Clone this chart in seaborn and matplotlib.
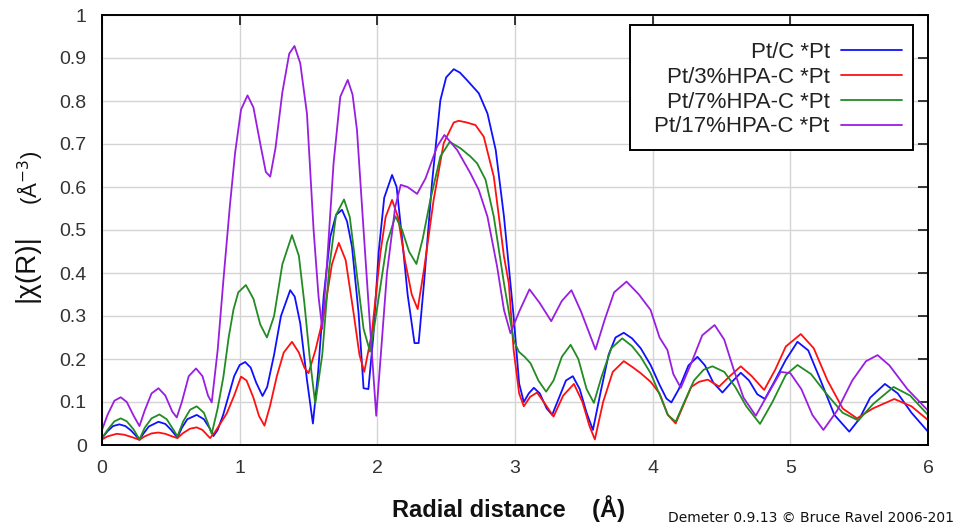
import matplotlib
matplotlib.use("Agg")
import matplotlib.pyplot as plt
from matplotlib.patches import Rectangle
import seaborn as sns
import pandas as pd

# ---------------- data ----------------
labels = ["Pt/C *Pt", "Pt/3%HPA-C *Pt", "Pt/7%HPA-C *Pt", "Pt/17%HPA-C *Pt"]
colors = ["#1010ff", "#ff1010", "#238b23", "#9a1ee0"]

r_blue = [0.00, 0.04, 0.08, 0.126, 0.17, 0.21, 0.245, 0.272, 0.30, 0.34, 0.41, 0.46, 0.50, 0.548,
          0.58, 0.62, 0.688, 0.74, 0.78, 0.81, 0.84, 0.88, 0.92, 0.96, 1.00, 1.04, 1.08, 1.12,
          1.166, 1.20, 1.25, 1.30, 1.367, 1.40, 1.44, 1.489, 1.532, 1.57, 1.61, 1.658, 1.70,
          1.743, 1.78, 1.816, 1.864, 1.90, 1.935, 1.97, 2.01, 2.05, 2.107, 2.14, 2.18, 2.22,
          2.27, 2.30, 2.34, 2.397, 2.458, 2.50, 2.555, 2.60, 2.65, 2.737, 2.80, 2.86, 2.92,
          2.99, 3.03, 3.064, 3.10, 3.137, 3.18, 3.23, 3.27, 3.32, 3.37, 3.42, 3.47, 3.52,
          3.566, 3.62, 3.68, 3.73, 3.79, 3.85, 3.913, 3.985, 4.05, 4.10, 4.136, 4.19, 4.26,
          4.325, 4.38, 4.44, 4.507, 4.57, 4.64, 4.70, 4.76, 4.815, 4.88, 4.967, 5.052, 5.13,
          5.22, 5.32, 5.428, 5.50, 5.58, 5.687, 5.78, 5.88, 6.00]
v_blue = [0.016, 0.032, 0.044, 0.048, 0.044, 0.034, 0.022, 0.012, 0.026, 0.043, 0.054, 0.049, 0.036, 0.017,
          0.040, 0.060, 0.070, 0.060, 0.040, 0.021, 0.035, 0.070, 0.115, 0.160, 0.186, 0.193, 0.180, 0.145,
          0.114, 0.135, 0.210, 0.300, 0.360, 0.345, 0.283, 0.151, 0.050, 0.170, 0.345, 0.484, 0.535,
          0.547, 0.520, 0.461, 0.306, 0.132, 0.130, 0.250, 0.450, 0.575, 0.628, 0.600, 0.480, 0.350,
          0.237, 0.237, 0.380, 0.609, 0.802, 0.855, 0.874, 0.866, 0.849, 0.818, 0.771, 0.686, 0.531,
          0.299, 0.143, 0.100, 0.120, 0.133, 0.120, 0.085, 0.070, 0.110, 0.150, 0.160, 0.130, 0.075,
          0.035, 0.120, 0.210, 0.250, 0.261, 0.248, 0.225, 0.186, 0.140, 0.108, 0.099, 0.130, 0.185,
          0.205, 0.185, 0.145, 0.122, 0.145, 0.168, 0.150, 0.118, 0.107, 0.145, 0.198, 0.240, 0.220,
          0.150, 0.070, 0.031, 0.060, 0.110, 0.142, 0.120, 0.075, 0.031]

r_red = [0.00, 0.04, 0.107, 0.16, 0.22, 0.272, 0.31, 0.36, 0.41, 0.46, 0.51, 0.548, 0.59, 0.64,
         0.688, 0.73, 0.785, 0.82, 0.86, 0.907, 0.96, 1.01, 1.05, 1.10, 1.14, 1.18, 1.22, 1.27,
         1.32, 1.38, 1.43, 1.47, 1.50, 1.55, 1.61, 1.67, 1.72, 1.77, 1.828, 1.87, 1.905, 1.96,
         2.022, 2.06, 2.107, 2.15, 2.20, 2.25, 2.293, 2.34, 2.409, 2.482, 2.555, 2.591, 2.65,
         2.713, 2.773, 2.846, 2.92, 2.955, 2.99, 3.03, 3.064, 3.11, 3.16, 3.22, 3.28, 3.35,
         3.428, 3.49, 3.54, 3.58, 3.64, 3.71, 3.79, 3.85, 3.913, 3.985, 4.05, 4.11, 4.167,
         4.22, 4.28, 4.337, 4.40, 4.483, 4.56, 4.64, 4.72, 4.81, 4.89, 4.967, 5.076, 5.17,
         5.27, 5.38, 5.484, 5.60, 5.755, 5.88, 6.00]
v_red = [0.013, 0.020, 0.026, 0.024, 0.018, 0.012, 0.020, 0.027, 0.029, 0.026, 0.020, 0.016, 0.028, 0.038,
         0.041, 0.035, 0.016, 0.030, 0.050, 0.074, 0.115, 0.159, 0.150, 0.110, 0.068, 0.045, 0.090, 0.160,
         0.215, 0.240, 0.215, 0.180, 0.167, 0.220, 0.300, 0.420, 0.470, 0.430, 0.306, 0.210, 0.170, 0.260,
         0.446, 0.530, 0.570, 0.530, 0.430, 0.350, 0.316, 0.410, 0.570, 0.702, 0.750, 0.754, 0.750,
         0.744, 0.717, 0.624, 0.438, 0.376, 0.221, 0.120, 0.090, 0.112, 0.122, 0.095, 0.066, 0.115,
         0.142, 0.100, 0.045, 0.013, 0.100, 0.170, 0.195, 0.182, 0.167, 0.147, 0.120, 0.070, 0.050,
         0.090, 0.135, 0.147, 0.152, 0.136, 0.160, 0.183, 0.160, 0.128, 0.175, 0.229, 0.258, 0.225,
         0.150, 0.085, 0.062, 0.085, 0.107, 0.090, 0.058]

r_green = [0.00, 0.04, 0.09, 0.136, 0.18, 0.23, 0.272, 0.31, 0.36, 0.417, 0.47, 0.51, 0.548, 0.59,
           0.64, 0.688, 0.74, 0.77, 0.797, 0.84, 0.882, 0.92, 0.955, 0.99, 1.045, 1.10, 1.15,
           1.198, 1.25, 1.31, 1.38, 1.43, 1.47, 1.51, 1.549, 1.60, 1.65, 1.70, 1.758, 1.80, 1.85,
           1.90, 1.947, 1.98, 2.022, 2.07, 2.131, 2.18, 2.23, 2.284, 2.33, 2.385, 2.458, 2.526,
           2.604, 2.676, 2.725, 2.786, 2.846, 2.92, 2.99, 3.028, 3.07, 3.113, 3.17, 3.226, 3.28,
           3.34, 3.404, 3.46, 3.52, 3.573, 3.63, 3.70, 3.779, 3.85, 3.913, 3.985, 4.06, 4.11,
           4.167, 4.23, 4.30, 4.37, 4.434, 4.52, 4.60, 4.68, 4.78, 4.87, 4.967, 5.052, 5.15,
           5.26, 5.38, 5.494, 5.60, 5.75, 5.87, 6.00]
v_green = [0.016, 0.035, 0.055, 0.062, 0.055, 0.036, 0.013, 0.040, 0.062, 0.071, 0.060, 0.040, 0.020, 0.055,
           0.082, 0.090, 0.075, 0.050, 0.026, 0.085, 0.159, 0.250, 0.315, 0.355, 0.372, 0.340, 0.280,
           0.250, 0.300, 0.420, 0.488, 0.440, 0.330, 0.200, 0.096, 0.210, 0.410, 0.535, 0.571, 0.530, 0.400,
           0.270, 0.217, 0.280, 0.368, 0.470, 0.532, 0.500, 0.450, 0.421, 0.480, 0.570, 0.671, 0.705,
           0.690, 0.671, 0.655, 0.617, 0.531, 0.376, 0.244, 0.217, 0.205, 0.190, 0.150, 0.124, 0.150,
           0.205, 0.233, 0.200, 0.130, 0.098, 0.160, 0.225, 0.248, 0.230, 0.205, 0.167, 0.110, 0.070,
           0.054, 0.100, 0.150, 0.175, 0.183, 0.170, 0.135, 0.090, 0.049, 0.100, 0.163, 0.186, 0.165,
           0.120, 0.075, 0.057, 0.095, 0.135, 0.115, 0.070]

r_purple = [0.00, 0.04, 0.09, 0.136, 0.18, 0.23, 0.272, 0.31, 0.36, 0.41, 0.46, 0.51, 0.543, 0.58,
            0.63, 0.683, 0.73, 0.77, 0.797, 0.84, 0.882, 0.93, 0.967, 1.01, 1.057, 1.10, 1.15,
            1.19, 1.222, 1.26, 1.31, 1.36, 1.398, 1.44, 1.489, 1.537, 1.573, 1.60, 1.634, 1.682,
            1.731, 1.785, 1.82, 1.852, 1.90, 1.949, 1.992, 2.03, 2.07, 2.13, 2.17, 2.22, 2.289,
            2.35, 2.434, 2.487, 2.53, 2.58, 2.676, 2.737, 2.80, 2.87, 2.92, 2.967, 3.03, 3.105,
            3.18, 3.263, 3.34, 3.41, 3.48, 3.585, 3.65, 3.72, 3.81, 3.90, 3.985, 4.05, 4.107,
            4.15, 4.204, 4.28, 4.36, 4.45, 4.52, 4.59, 4.66, 4.749, 4.84, 4.93, 5.00, 5.08, 5.16,
            5.24, 5.34, 5.45, 5.55, 5.634, 5.72, 5.85, 6.00]
v_purple = [0.035, 0.070, 0.103, 0.111, 0.100, 0.068, 0.044, 0.080, 0.120, 0.132, 0.115, 0.078, 0.064, 0.100,
            0.160, 0.178, 0.160, 0.115, 0.099, 0.220, 0.384, 0.560, 0.680, 0.780, 0.813, 0.785, 0.700,
            0.635, 0.624, 0.690, 0.820, 0.910, 0.928, 0.888, 0.770, 0.500, 0.345, 0.270, 0.420, 0.655,
            0.810, 0.849, 0.815, 0.733, 0.500, 0.267, 0.068, 0.230, 0.400, 0.554, 0.605, 0.600, 0.584,
            0.620, 0.694, 0.721, 0.705, 0.686, 0.632, 0.593, 0.531, 0.415, 0.314, 0.260, 0.310, 0.362,
            0.330, 0.288, 0.335, 0.360, 0.310, 0.222, 0.290, 0.355, 0.380, 0.350, 0.314, 0.250, 0.221,
            0.165, 0.133, 0.190, 0.255, 0.279, 0.245, 0.174, 0.110, 0.068, 0.120, 0.170, 0.167, 0.130, 0.070,
            0.035, 0.080, 0.150, 0.195, 0.209, 0.185, 0.130, 0.080]

x_ticks = [0, 1, 2, 3, 4, 5, 6]
y_ticks = [0, 0.1, 0.2, 0.3, 0.4, 0.5, 0.6, 0.7, 0.8, 0.9, 1.0]

# ---------------- figure ----------------
sns.set_style("white")
plt.rcParams["font.family"] = ["Liberation Sans", "DejaVu Sans"]

frames = []
for lab, rr, vv in zip(labels, [r_blue, r_red, r_green, r_purple], [v_blue, v_red, v_green, v_purple]):
    frames.append(pd.DataFrame({"R": rr, "chi": vv, "series": lab}))
df = pd.concat(frames, ignore_index=True)

fig = plt.figure(figsize=(9.61, 5.26), dpi=100)
ax = fig.add_axes([102 / 961, 81 / 526, 826 / 961, 430 / 526])

sns.lineplot(data=df, x="R", y="chi", hue="series", hue_order=labels,
             palette=dict(zip(labels, colors)), sort=False, estimator=None,
             linewidth=1.3, ax=ax)

ax.set_xlim(0, 6)
ax.set_ylim(0, 1)
ax.set_xticks(x_ticks)
ax.set_yticks(y_ticks)
ax.set_xticklabels([f"{t:g}" for t in x_ticks])
ax.set_yticklabels([f"{t:g}" for t in y_ticks])
ax.grid(True, color="#d4d4d4", linewidth=1.0)
ax.set_axisbelow(True)
for sp in ax.spines.values():
    sp.set_color("black")
    sp.set_linewidth(1.4)
ax.tick_params(axis="both", which="major", direction="in", length=7, width=1.3,
               top=True, right=True, labelsize=14, labelcolor="#333333", pad=11)
ax.set_xlabel("")
ax.set_ylabel("")

# legend frame drawn as its own box (reference box is wider on the left)
frame = Rectangle((630 / 961, 1 - 150 / 526), 283 / 961, 125 / 526,
                  transform=fig.transFigure, facecolor="white", edgecolor="black",
                  linewidth=1.4, zorder=4.5, clip_on=False)
ax.add_patch(frame)

handles = ax.get_legend_handles_labels()[0]
leg = ax.legend(handles=handles, labels=labels,
                loc="upper right", bbox_to_anchor=(913 / 961, 1 - 31 / 526),
                bbox_transform=fig.transFigure, borderaxespad=0,
                markerfirst=False, frameon=False, fontsize=16,
                handlelength=2.75, handletextpad=0.5, labelspacing=0.17,
                borderpad=0.5)
for t in leg.get_texts():
    t.set_color("#222222")
for h in leg.get_lines():
    h.set_linewidth(1.3)

# axis labels
fig.text(508 / 961, 1 - 509 / 526, "Radial distance    (Å)", ha="center", va="center",
         fontsize=17, fontweight="bold", color="#111111")
fig.text(26 / 961, 1 - 268 / 526, "|χ(R)|", rotation=90, ha="center", va="center",
         fontsize=20, color="#111111")
fig.text(30 / 961, 1 - 178 / 526, "(Å$^{-3}$)", rotation=90, ha="center", va="center",
         fontsize=16, color="#111111")
fig.text(668 / 961, 1 - 518 / 526, "Demeter 0.9.13 © Bruce Ravel 2006-201", ha="left",
         va="center", fontsize=10, color="#111111", family=["DejaVu Sans"])

fig.savefig("out.png", dpi=100)
